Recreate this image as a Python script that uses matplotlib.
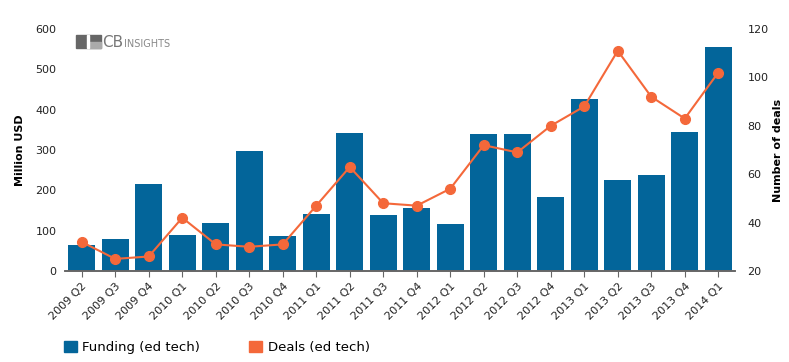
import matplotlib.pyplot as plt
from matplotlib.patches import Rectangle, Patch

quarters = ['2009 Q2', '2009 Q3', '2009 Q4', '2010 Q1', '2010 Q2', '2010 Q3', '2010 Q4',
            '2011 Q1', '2011 Q2', '2011 Q3', '2011 Q4', '2012 Q1', '2012 Q2', '2012 Q3',
            '2012 Q4', '2013 Q1', '2013 Q2', '2013 Q3', '2013 Q4', '2014 Q1']
funding = [64, 79, 216, 89, 119, 297, 87, 141, 342, 139, 156, 116, 340, 340,
           183, 426, 226, 238, 345, 555]
deals = [32, 25, 26, 42, 31, 30, 31, 47, 63, 48, 47, 54, 72, 69, 80, 88, 111, 92, 83, 102]

BAR = '#03659a'
LINE = '#f4683a'
TXT = '#222222'

plt.rcParams['font.family'] = 'DejaVu Sans'

fig = plt.figure(figsize=(7.89, 3.62), dpi=100)
ax = fig.add_axes([65 / 789, 91 / 362, 670 / 789, 242 / 362])
ax2 = ax.twinx()

x = list(range(len(quarters)))
ax.bar(x, funding, width=0.8, color=BAR, zorder=2)
ax2.plot(x, deals, color=LINE, lw=1.5, marker='o', ms=7, zorder=3)

ax.set_xlim(-0.5, len(quarters) - 0.5)
ax.set_ylim(0, 600)
ax2.set_ylim(20, 120)
ax.set_yticks(range(0, 601, 100))
ax2.set_yticks(range(20, 121, 20))

ax.set_xticks(x)
ax.set_xticklabels(quarters, rotation=45, ha='right', rotation_mode='anchor',
                   fontsize=8, color=TXT)
ax.tick_params(axis='x', length=4, color='#666666', pad=3)
ax.tick_params(axis='y', length=0, labelsize=8, labelcolor=TXT, pad=6)
ax2.tick_params(axis='y', length=0, labelsize=8, labelcolor=TXT, pad=9)

for a in (ax, ax2):
    for s in ('top', 'left', 'right'):
        a.spines[s].set_visible(False)
    a.spines['bottom'].set_color('#666666')
    a.spines['bottom'].set_linewidth(1.2)

ax.set_ylabel('Million USD', fontsize=8, fontweight='bold')
ax.yaxis.set_label_coords(-0.06, 0.5)
ax2.set_ylabel('Number of deals', fontsize=8, fontweight='bold')
ax2.yaxis.set_label_coords(1.056, 0.5)

# logo
ax.add_patch(Rectangle((0.017, 0.92), 0.036, 0.055, transform=ax.transAxes,
                       color='#666666', clip_on=False, zorder=4))
ax.add_patch(Rectangle((0.036, 0.92), 0.017, 0.025, transform=ax.transAxes,
                       color='#aaaaaa', clip_on=False, zorder=5))
ax.add_patch(Rectangle((0.033, 0.92), 0.003, 0.055, transform=ax.transAxes,
                       color='white', clip_on=False, zorder=6))
ax.text(0.055, 0.945, 'CB', transform=ax.transAxes, fontsize=11, color='#777777',
        va='center', ha='left')
ax.text(0.088, 0.94, 'INSIGHTS', transform=ax.transAxes, fontsize=7, color='#888888',
        va='center', ha='left')

handles = [Patch(color=BAR, label='Funding (ed tech)'),
           Patch(color=LINE, label='Deals (ed tech)')]
fig.legend(handles=handles, loc='lower left', bbox_to_anchor=(64 / 789, 8 / 362),
           ncol=2, frameon=False, fontsize=9.5, handlelength=1.0, handleheight=1.0,
           columnspacing=3.7, handletextpad=0.4, borderpad=0, borderaxespad=0)

fig.savefig('out.png', dpi=100)
